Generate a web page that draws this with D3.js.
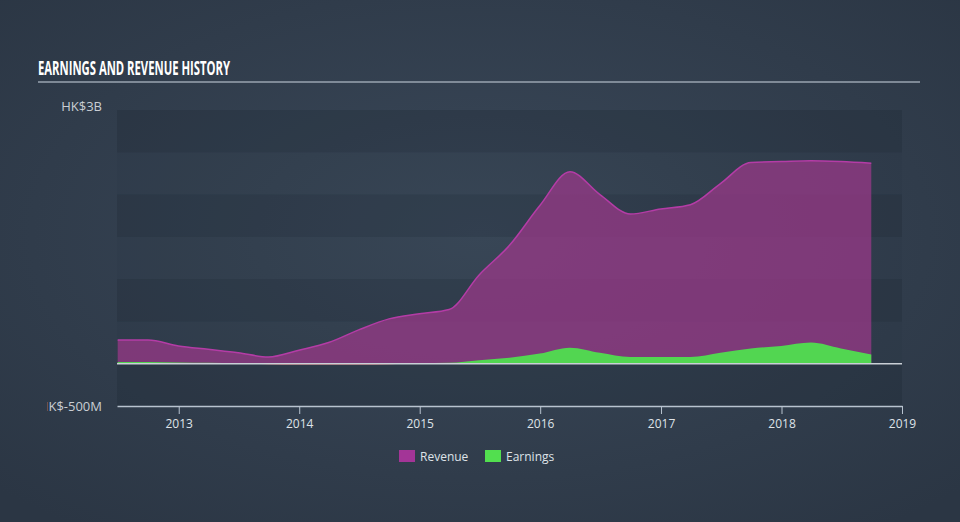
<!DOCTYPE html>
<html>
<head>
<meta charset="utf-8">
<script src="https://cdn.jsdelivr.net/npm/d3@7"></script>
<style>
  html, body { margin: 0; padding: 0; background: #2f3b4a; }
  svg { display: block; }
  text { font-family: "Open Sans", "DejaVu Sans", sans-serif; }
</style>
</head>
<body>
<svg id="chart"></svg>
<script>
// quarter ends
const dates = ['2012-06-30','2012-09-30','2012-12-31','2013-03-31','2013-06-30','2013-09-30','2013-12-31',
  '2014-03-31','2014-06-30','2014-09-30','2014-12-31','2015-03-31','2015-06-30','2015-09-30','2015-12-31',
  '2016-03-31','2016-06-30','2016-09-30','2016-12-31','2017-03-31','2017-06-30','2017-09-30','2017-12-31',
  '2018-03-31','2018-06-30','2018-09-30'];
// HK$ billions
const revenue = [0.28,0.28,0.21,0.17,0.13,0.08,0.16,
  0.25,0.40,0.53,0.59,0.64,1.05,1.40,1.87,
  2.27,2.00,1.77,1.83,1.88,2.13,2.38,2.39,
  2.40,2.39,2.37];
const earnings = [0.02,0.02,0.015,0.01,0.005,-0.005,-0.01,
  -0.01,-0.01,-0.005,0.005,0.01,0.04,0.07,0.12,
  0.19,0.13,0.08,0.08,0.08,0.13,0.18,0.21,
  0.25,0.18,0.11];
const yTickValues = [3, -0.5];
const yTickLabels = ['HK$3B', 'HK$-500M'];
const xTickYears = [2013, 2014, 2015, 2016, 2017, 2018, 2019];
const legendItems = [{name: 'Revenue', color: '#a33597'}, {name: 'Earnings', color: '#52df4f'}];

const W = 960, H = 522;
const margin = {top: 110, right: 58, bottom: 116, left: 117};
const cw = W - margin.left - margin.right;
const ch = H - margin.top - margin.bottom;

const parse = d3.timeParse('%Y-%m-%d');
const data = dates.map((d, i) => ({date: parse(d), rev: revenue[i], earn: earnings[i]}));

const svg = d3.select('#chart').attr('width', W).attr('height', H);
const defs = svg.append('defs');

const bg = defs.append('radialGradient').attr('id', 'bg')
  .attr('cx', '50%').attr('cy', '45%').attr('r', '70%');
bg.append('stop').attr('offset', '0%').attr('stop-color', '#3a4859');
bg.append('stop').attr('offset', '100%').attr('stop-color', '#2b3644');
svg.append('rect').attr('width', W).attr('height', H).attr('fill', 'url(#bg)');

// title (condensed look)
svg.append('text')
  .attr('x', 38).attr('y', 75)
  .attr('font-family', '"DejaVu Sans Condensed", "DejaVu Sans", sans-serif')
  .attr('font-weight', 'bold').attr('font-size', 19)
  .attr('textLength', 192).attr('lengthAdjust', 'spacingAndGlyphs')
  .attr('fill', '#ffffff')
  .text('EARNINGS AND REVENUE HISTORY');
svg.append('line')
  .attr('x1', 38).attr('x2', 920).attr('y1', 82).attr('y2', 82)
  .attr('stroke', '#9aa5b1').attr('stroke-width', 1.5);

const x = d3.scaleTime()
  .domain([new Date(2012, 5, 28), new Date(2019, 0, 1)])
  .range([0, cw]);
const y = d3.scaleLinear().domain([-0.5, 3]).range([ch, 0]);

const g = svg.append('g').attr('transform', `translate(${margin.left},${margin.top})`);

// alternating bands every 500M
const bandStarts = d3.range(-0.5, 3, 0.5);
g.selectAll('.band').data(bandStarts).enter().append('rect')
  .attr('x', 0).attr('width', cw)
  .attr('y', d => y(d + 0.5)).attr('height', d => y(d) - y(d + 0.5))
  .attr('fill', (d, i) => i % 2 === 0 ? 'rgba(20,30,42,0.2)' : 'rgba(20,30,42,0.05)');

const curve = d3.curveMonotoneX;

// revenue
g.append('path').datum(data)
  .attr('d', d3.area().curve(curve).x(d => x(d.date)).y0(y(0)).y1(d => y(d.rev)))
  .attr('fill', 'rgba(157,57,139,0.72)');
g.append('path').datum(data)
  .attr('d', d3.line().curve(curve).x(d => x(d.date)).y(d => y(d.rev)))
  .attr('fill', 'none').attr('stroke', '#b43ca6').attr('stroke-width', 1.5);

// earnings, green above zero and red below
defs.append('clipPath').attr('id', 'above').append('rect')
  .attr('x', 0).attr('y', 0).attr('width', cw).attr('height', y(0));
defs.append('clipPath').attr('id', 'below').append('rect')
  .attr('x', 0).attr('y', y(0)).attr('width', cw).attr('height', ch - y(0));
const earnArea = d3.area().curve(curve).x(d => x(d.date)).y0(y(0)).y1(d => y(d.earn));
g.append('path').datum(data).attr('d', earnArea)
  .attr('clip-path', 'url(#above)').attr('fill', '#52d651');
g.append('path').datum(data).attr('d', earnArea)
  .attr('clip-path', 'url(#below)').attr('fill', '#e0413c');

// zero line
g.append('line')
  .attr('x1', 0).attr('x2', cw).attr('y1', y(0)).attr('y2', y(0))
  .attr('stroke', '#c9cfd6').attr('stroke-width', 1.5);

// x axis
const xAxisG = g.append('g').attr('transform', `translate(0,${ch})`)
  .call(d3.axisBottom(x)
    .tickValues(xTickYears.map(yr => new Date(yr, 0, 1)))
    .tickFormat(d3.timeFormat('%Y'))
    .tickSize(8).tickSizeOuter(0));
xAxisG.select('.domain').attr('stroke', '#b8c3cf').attr('stroke-width', 1.5);
xAxisG.selectAll('.tick line').attr('stroke', '#b8c3cf');
xAxisG.selectAll('.tick text')
  .attr('fill', '#dfe3e8').attr('font-size', 12).attr('dy', '0.9em')
  .attr('font-family', '"Open Sans", "DejaVu Sans", sans-serif');

// y labels, clipped on the left like the original
defs.append('clipPath').attr('id', 'ylab').append('rect')
  .attr('x', 47).attr('y', 0).attr('width', 70).attr('height', H);
svg.append('g').attr('clip-path', 'url(#ylab)')
  .selectAll('text').data(yTickValues).enter().append('text')
  .attr('x', 102)
  .attr('y', d => margin.top + y(d))
  .attr('dy', d => d > 0 ? '0.1em' : '0.35em')
  .attr('text-anchor', 'end')
  .attr('fill', '#c9ced4').attr('font-size', 13)
  .text((d, i) => yTickLabels[i]);

// legend
const legend = svg.append('g').attr('transform', 'translate(399,450)');
const li = legend.selectAll('g').data(legendItems).enter().append('g')
  .attr('transform', (d, i) => `translate(${i * 86},0)`);
li.append('rect').attr('width', 16).attr('height', 12).attr('fill', d => d.color);
li.append('text').attr('x', 21).attr('y', 10.5)
  .attr('fill', '#dfe3e8').attr('font-size', 12)
  .text(d => d.name);
</script>
</body>
</html>
